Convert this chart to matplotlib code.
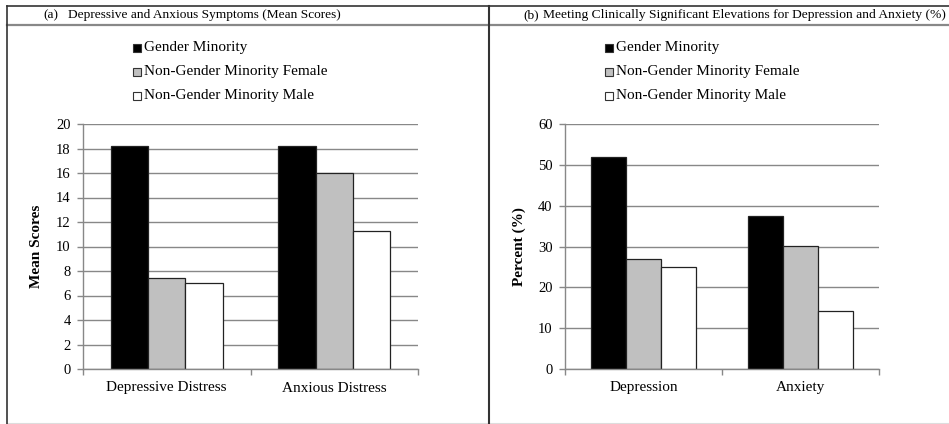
import numpy as np
import matplotlib
matplotlib.use("Agg")
import matplotlib.pyplot as plt
from matplotlib.patches import Rectangle
from matplotlib.lines import Line2D

plt.rcParams['font.family'] = ['Liberation Serif', 'DejaVu Serif']

# data
series_names = ["Gender Minority", "Non-Gender Minority Female", "Non-Gender Minority Male"]
series_colors = ["#000000", "#c0c0c0", "#ffffff"]

cats_a = ["Depressive Distress", "Anxious Distress"]
mean_gm = [18.2, 18.2]
mean_ngf = [7.4, 16.0]
mean_ngm = [7.0, 11.3]

cats_b = ["Depression", "Anxiety"]
pct_gm = [52.0, 37.5]
pct_ngf = [27.0, 30.1]
pct_ngm = [25.0, 14.3]

W, H = 949, 424
fig = plt.figure(figsize=(W / 100, H / 100), dpi=100)


def fx(px):
    return px / W


def fy(py):
    return 1 - py / H


def draw_panel(rect, cats, values, ymax, ystep, ylabel):
    x0, y0, x1, y1 = rect
    ax = fig.add_axes([fx(x0), fy(y1), fx(x1) - fx(x0), fy(y0) - fy(y1)])
    x = np.arange(len(cats))
    w = 1 / 4.5
    for i, vals in enumerate(values):
        ax.bar(x + (i - 1) * w, vals, width=w, color=series_colors[i],
               edgecolor="#222222", linewidth=0.9, zorder=3)
    ax.set_xlim(-0.5, len(cats) - 0.5)
    ax.set_ylim(0, ymax)
    ax.set_yticks(np.arange(0, ymax + 0.1, ystep))
    ax.set_xticks(x)
    ax.set_xticklabels(cats, fontsize=11)
    ax.set_xticks(np.arange(-0.5, len(cats)), minor=True)
    ax.tick_params(axis='x', which='major', length=0, pad=9)
    ax.tick_params(axis='x', which='minor', length=4, color="#888888", width=1)
    ax.tick_params(axis='y', length=4, color="#888888", width=1, labelsize=10.5, pad=5)
    ax.yaxis.grid(True, color="#888888", linewidth=1)
    ax.set_axisbelow(True)
    for s in ["top", "right"]:
        ax.spines[s].set_visible(False)
    for s in ["left", "bottom"]:
        ax.spines[s].set_color("#888888")
        ax.spines[s].set_linewidth(1)
        ax.spines[s].set_zorder(4)
    ax.set_ylabel(ylabel, fontsize=11, fontweight="bold")
    ax.yaxis.set_label_coords((ylabel_x[ylabel] - x0) / (x1 - x0), 0.5)
    return ax


ylabel_x = {"Mean Scores": 43, "Percent (%)": 526}
ax_a = draw_panel((83, 124, 418, 369), cats_a, [mean_gm, mean_ngf, mean_ngm], 20, 2, "Mean Scores")
ax_b = draw_panel((565, 124, 879, 369), cats_b, [pct_gm, pct_ngf, pct_ngm], 60, 10, "Percent (%)")


# legends, drawn by hand to sit like the original
def draw_legend(px, rows_y):
    for name, color, py in zip(series_names, series_colors, rows_y):
        fig.add_artist(Rectangle((fx(px), fy(py + 4)), fx(8), 8 / H, facecolor=color,
                                 edgecolor="#333333", linewidth=0.8))
        fig.text(fx(px + 11), fy(py), name, fontsize=11, va="center", ha="left")


draw_legend(133, [48, 72, 96])
draw_legend(605, [48, 72, 96])


# table frame
def hline(py, x0, x1, color, lw):
    fig.add_artist(Line2D([fx(x0), fx(x1)], [fy(py), fy(py)], color=color, linewidth=lw))


def vline(px, y0, y1, color, lw):
    fig.add_artist(Line2D([fx(px), fx(px)], [fy(y0), fy(y1)], color=color, linewidth=lw))


hline(6, 7, 949, "#333333", 1.2)
hline(24.5, 7, 949, "#888888", 1.6)
hline(423, 7, 949, "#dddddd", 0.8)
vline(7, 6, 424, "#333333", 1.2)
vline(489, 6, 424, "#333333", 1.5)

fig.text(fx(43), fy(15), "(a)", fontsize=9.6, va="center")
fig.text(fx(68), fy(15), "Depressive and Anxious Symptoms (Mean Scores)", fontsize=9.6, va="center")
fig.text(fx(523), fy(15), "(b)", fontsize=9.6, va="center")
fig.text(fx(543), fy(15), "Meeting Clinically Significant Elevations for Depression and Anxiety (%)",
         fontsize=9.7, va="center")

fig.savefig("out.png", dpi=100)
